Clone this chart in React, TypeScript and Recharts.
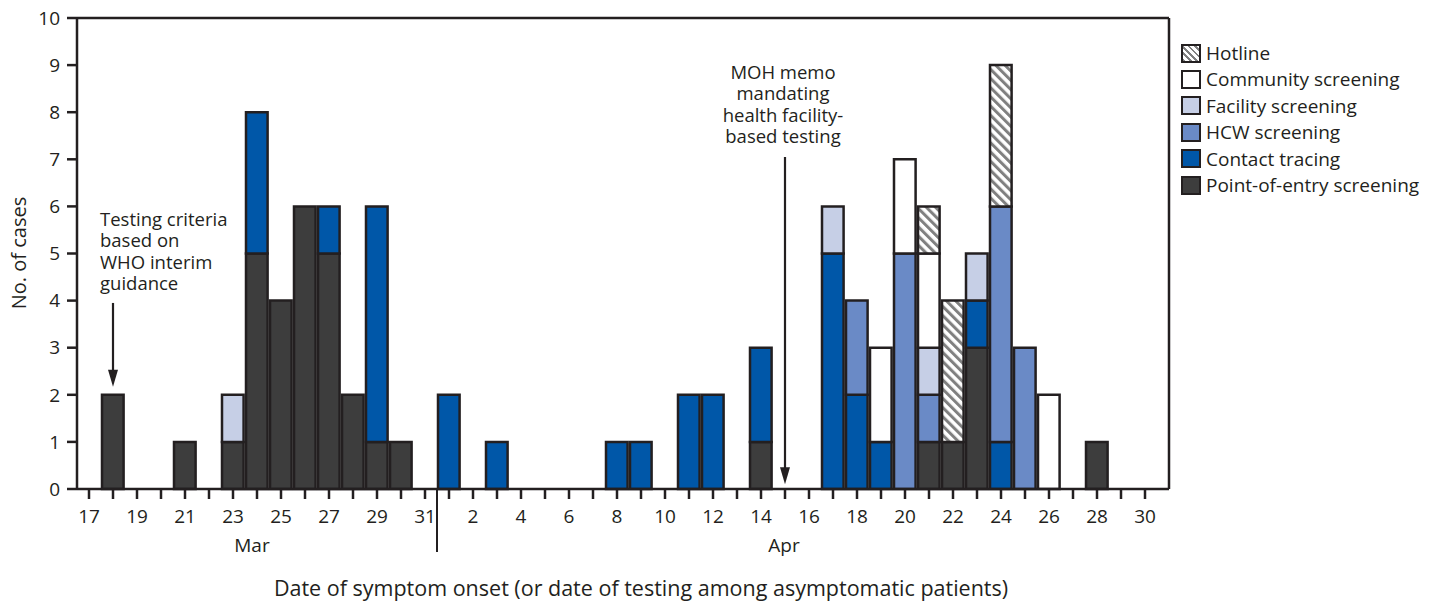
import React from 'react'
import { BarChart, Bar, XAxis, YAxis, ReferenceLine } from 'recharts'

// days shown on the axis: Mar 17 – Apr 30
const marchDays = [17, 18, 19, 20, 21, 22, 23, 24, 25, 26, 27, 28, 29, 30, 31]
const aprilDays = [
  1, 2, 3, 4, 5, 6, 7, 8, 9, 10, 11, 12, 13, 14, 15,
  16, 17, 18, 19, 20, 21, 22, 23, 24, 25, 26, 27, 28, 29, 30,
]

// cases per day, March part then April part
const pointOfEntry = [
  0, 2, 0, 0, 1, 0, 1, 5, 4, 6, 5, 2, 1, 1, 0,
  0, 0, 0, 0, 0, 0, 0, 0, 0, 0, 0, 0, 0, 1, 0,
  0, 0, 0, 0, 0, 1, 1, 3, 0, 0, 0, 0, 1, 0, 0,
]
const contactTracing = [
  0, 0, 0, 0, 0, 0, 0, 3, 0, 0, 1, 0, 5, 0, 0,
  2, 0, 1, 0, 0, 0, 0, 1, 1, 0, 2, 2, 0, 2, 0,
  0, 5, 2, 1, 0, 0, 0, 1, 1, 0, 0, 0, 0, 0, 0,
]
const hcwScreening = [
  0, 0, 0, 0, 0, 0, 0, 0, 0, 0, 0, 0, 0, 0, 0,
  0, 0, 0, 0, 0, 0, 0, 0, 0, 0, 0, 0, 0, 0, 0,
  0, 0, 2, 0, 5, 1, 0, 0, 5, 3, 0, 0, 0, 0, 0,
]
const facilityScreening = [
  0, 0, 0, 0, 0, 0, 1, 0, 0, 0, 0, 0, 0, 0, 0,
  0, 0, 0, 0, 0, 0, 0, 0, 0, 0, 0, 0, 0, 0, 0,
  0, 1, 0, 0, 0, 1, 0, 1, 0, 0, 0, 0, 0, 0, 0,
]
const communityScreening = [
  0, 0, 0, 0, 0, 0, 0, 0, 0, 0, 0, 0, 0, 0, 0,
  0, 0, 0, 0, 0, 0, 0, 0, 0, 0, 0, 0, 0, 0, 0,
  0, 0, 0, 2, 2, 2, 0, 0, 0, 0, 2, 0, 0, 0, 0,
]
const hotline = [
  0, 0, 0, 0, 0, 0, 0, 0, 0, 0, 0, 0, 0, 0, 0,
  0, 0, 0, 0, 0, 0, 0, 0, 0, 0, 0, 0, 0, 0, 0,
  0, 0, 0, 0, 0, 1, 3, 0, 3, 0, 0, 0, 0, 0, 0,
]

const yTicks = [0, 1, 2, 3, 4, 5, 6, 7, 8, 9, 10]

const dayLabels = [...marchDays, ...aprilDays]
const data = dayLabels.map((day, i) => ({
  idx: i,
  day,
  poe: pointOfEntry[i],
  contact: contactTracing[i],
  hcw: hcwScreening[i],
  facility: facilityScreening[i],
  community: communityScreening[i],
  hotline: hotline[i],
}))
const dayTicks = data.map((d) => d.idx)

const INK = '#231f20'
const FONT = '"Open Sans", sans-serif'

const SERIES = [
  { key: 'poe', name: 'Point-of-entry screening', fill: '#3d3d3d' },
  { key: 'contact', name: 'Contact tracing', fill: '#0057a8' },
  { key: 'hcw', name: 'HCW screening', fill: '#6a8ac6' },
  { key: 'facility', name: 'Facility screening', fill: '#c6cfe6' },
  { key: 'community', name: 'Community screening', fill: '#ffffff' },
  { key: 'hotline', name: 'Hotline', fill: 'url(#hatch)' },
]

function DayTick({ x, y, payload }: any) {
  const i = payload.value
  return (
    <g>
      {i % 2 === 0 && (
        <text x={x} y={y} dy={22} textAnchor="middle" fontSize={19} fill={INK} fontFamily={FONT}>
          {dayLabels[i]}
        </text>
      )}
      {i === 7 && (
        <text x={x - 5} y={y} dy={51} textAnchor="middle" fontSize={19} fill={INK} fontFamily={FONT}>
          Mar
        </text>
      )}
      {i === 29 && (
        <text x={x - 1} y={y} dy={51} textAnchor="middle" fontSize={19} fill={INK} fontFamily={FONT}>
          Apr
        </text>
      )}
    </g>
  )
}

function arrowNote(lines: string[], anchor: 'start' | 'middle', dx: number, dy: number) {
  return (props: any) => {
    const { x1, y1, x2, y2 } = props
    return (
      <g>
        <line x1={x1} y1={y1} x2={x2} y2={y2 - 14} stroke={INK} strokeWidth={2.2} />
        <polygon points={`${x2 - 5},${y2 - 17} ${x2 + 5},${y2 - 17} ${x2},${y2}`} fill={INK} />
        {lines.map((t, k) => (
          <text
            key={k}
            x={x1 + dx}
            y={y1 + dy + k * 21.5}
            textAnchor={anchor}
            fontSize={18.5}
            fill={INK}
            fontFamily={FONT}
          >
            {t}
          </text>
        ))}
      </g>
    )
  }
}

function LegendBox() {
  const items = [...SERIES].reverse()
  return (
    <div
      style={{
        position: 'absolute',
        left: 1181,
        top: 40,
        fontFamily: FONT,
        fontSize: 19,
        color: INK,
        lineHeight: '26.4px',
        whiteSpace: 'nowrap',
      }}
    >
      {items.map((s) => (
        <div key={s.key} style={{ display: 'flex', alignItems: 'center', height: 26.4 }}>
          <span
            style={{
              display: 'inline-block',
              width: 20,
              height: 19,
              boxSizing: 'border-box',
              border: `2.5px solid ${INK}`,
              background:
                s.key === 'hotline'
                  ? 'repeating-linear-gradient(45deg, #808080 0 2px, #fff 2px 4.5px)'
                  : s.fill,
              marginRight: 5,
            }}
          />
          <span>{s.name}</span>
        </div>
      ))}
    </div>
  )
}

export default function App() {
  return (
    <div style={{ position: 'absolute', left: 0, top: 0, width: 1435, height: 603, fontFamily: FONT }}>
      <BarChart
        width={1435}
        height={603}
        data={data}
        barSize={24}
        margin={{ top: 18, right: 266, left: 37, bottom: 84 }}
      >
        <defs>
          <pattern id="hatch" patternUnits="userSpaceOnUse" width={6.5} height={6.5} patternTransform="rotate(-45)">
            <rect width={6.5} height={6.5} fill="#fff" />
            <rect width={3} height={6.5} fill="#808080" />
          </pattern>
        </defs>
        <XAxis
          dataKey="idx"
          type="number"
          domain={[-0.5, 45]}
          ticks={dayTicks}
          interval={0}
          allowDataOverflow
          height={30}
          tickSize={10}
          tick={<DayTick />}
          axisLine={{ stroke: INK, strokeWidth: 2.5 }}
          tickLine={{ stroke: INK, strokeWidth: 2.5 }}
        />
        <YAxis
          type="number"
          domain={[0, 10]}
          ticks={yTicks}
          interval={0}
          width={40}
          tickSize={10}
          tickMargin={7}
          tick={{ fontSize: 19, fill: INK, fontFamily: FONT }}
          axisLine={{ stroke: INK, strokeWidth: 2.5 }}
          tickLine={{ stroke: INK, strokeWidth: 2.5 }}
          label={({ viewBox }: any) => (
            <text
              x={18}
              y={viewBox.y + 235}
              transform={`rotate(-90, 18, ${viewBox.y + 235})`}
              textAnchor="middle"
              dominantBaseline="central"
              fontSize={20}
              fill={INK}
              fontFamily={FONT}
            >
              No. of cases
            </text>
          )}
        />
        {SERIES.map((s) => (
          <Bar
            key={s.key}
            dataKey={s.key}
            name={s.name}
            stackId="cases"
            fill={s.fill}
            stroke={INK}
            strokeWidth={2.5}
            isAnimationActive={false}
          />
        ))}
        <ReferenceLine y={10} stroke={INK} strokeWidth={2.5} />
        <ReferenceLine x={45} stroke={INK} strokeWidth={2.5} />
        <ReferenceLine
          segment={[{ x: 14.5, y: 0 }, { x: 14.5, y: -1.34 }]}
          ifOverflow="visible"
          stroke={INK}
          strokeWidth={2}
        />
        <ReferenceLine
          segment={[{ x: 1, y: 3.95 }, { x: 1, y: 2.17 }]}
          shape={arrowNote(['Testing criteria', 'based on', 'WHO interim', 'guidance'], 'start', -13, -77)}
        />
        <ReferenceLine
          segment={[{ x: 29, y: 7.05 }, { x: 29, y: 0.1 }]}
          shape={arrowNote(['MOH memo', 'mandating', 'health facility-', 'based testing'], 'middle', -2, -78)}
        />
        <text x={641} y={596} textAnchor="middle" fontSize={21.5} fill={INK} fontFamily={FONT}>
          Date of symptom onset (or date of testing among asymptomatic patients)
        </text>
      </BarChart>
      <LegendBox />
    </div>
  )
}
